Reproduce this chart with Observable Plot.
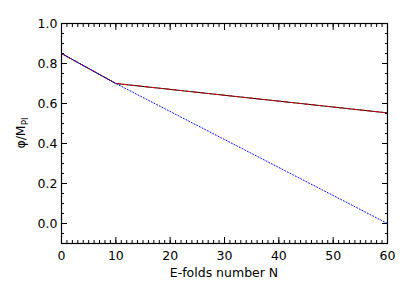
<!DOCTYPE html>
<html><head><meta charset="utf-8">
<script src="https://cdn.jsdelivr.net/npm/d3@7"></script>
<script src="https://cdn.jsdelivr.net/npm/@observablehq/plot@0.6"></script>
<style>body{margin:0;background:#fff}</style>
</head><body><div id="chart"></div>
<script>
const efolds = [0, 10, 60];
const phiUpper = [0.85, 0.70, 0.553];
const phiLower = [0.85, 0.70, 0.0];
const xMajor = [0, 10, 20, 30, 40, 50, 60];
const xMinor = d3.range(0, 61, 1);
const yMajor = [0.0, 0.2, 0.4, 0.6, 0.8, 1.0];
const yMinor = d3.range(-0.1, 1.0001, 0.05).map(v => +v.toFixed(2));

const upper = efolds.map((n, i) => ({n, phi: phiUpper[i]}));
const lower = efolds.map((n, i) => ({n, phi: phiLower[i]}));

const font = "DejaVu Sans";
const chart = Plot.plot({
  width: 409, height: 292,
  marginLeft: 61, marginRight: 22, marginTop: 23, marginBottom: 49,
  style: {fontFamily: font, fontSize: "12.5px", color: "#000", background: "#fff"},
  x: {domain: [0, 60]},
  y: {domain: [-0.1, 1.0]},
  marks: [
    Plot.axisX(xMajor, {anchor: "bottom", tickSize: -6, tickPadding: 14, tickFormat: d => d, label: null, fontSize: 12.5}),
    Plot.axisX(xMinor, {anchor: "bottom", tickSize: -3, tickFormat: null, text: null, label: null}),
    Plot.axisX(xMajor, {anchor: "top", tickSize: -6, text: null, label: null}),
    Plot.axisX(xMinor, {anchor: "top", tickSize: -3, text: null, label: null}),
    Plot.axisY(yMajor, {anchor: "left", tickSize: -6, tickPadding: 10, tickFormat: d => d.toFixed(1), label: null, fontSize: 12.5}),
    Plot.axisY(yMinor, {anchor: "left", tickSize: -3, text: null, label: null}),
    Plot.axisY(yMajor, {anchor: "right", tickSize: -6, text: null, label: null}),
    Plot.axisY(yMinor, {anchor: "right", tickSize: -3, text: null, label: null}),
    Plot.frame({stroke: "#000", strokeWidth: 1.2}),
    Plot.line(upper, {x: "n", y: "phi", stroke: "#000", strokeWidth: 1}),
    Plot.line(upper, {x: "n", y: "phi", stroke: "#e00000", strokeWidth: 1, strokeDasharray: "4,3"}),
    Plot.line(lower, {x: "n", y: "phi", stroke: "#0000ff", strokeWidth: 1, strokeDasharray: "1,2"})
  ]
});
document.getElementById("chart").appendChild(chart);

const svg = d3.select(chart);
svg.append("text")
  .attr("x", 224).attr("y", 277)
  .attr("text-anchor", "middle")
  .attr("font-family", font).attr("font-size", 12.5)
  .text("E-folds number N");
const yl = svg.append("text")
  .attr("transform", "translate(25,133) rotate(-90)")
  .attr("text-anchor", "middle")
  .attr("font-family", font).attr("font-size", 12.5);
yl.append("tspan").text("φ/M");
yl.append("tspan").attr("dy", 3).attr("font-size", 9).text("Pl");
</script></body></html>
